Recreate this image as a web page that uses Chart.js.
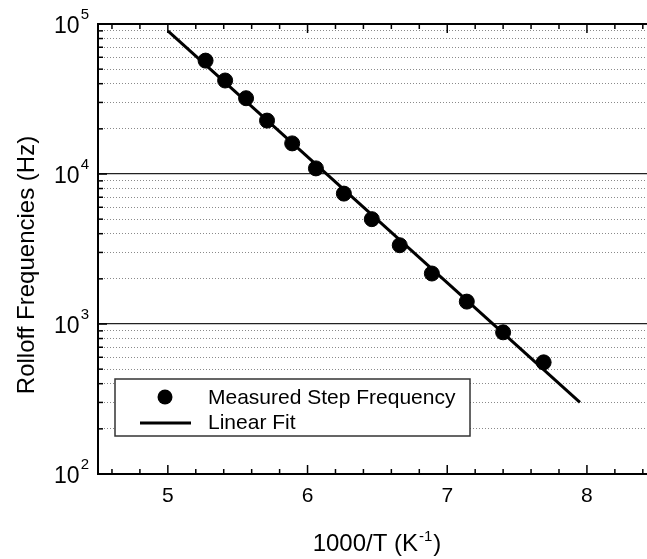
<!DOCTYPE html>
<html>
<head>
<meta charset="utf-8">
<script src="https://cdn.jsdelivr.net/npm/chart.js@4/dist/chart.umd.min.js"></script>
<style>
  html, body { margin: 0; padding: 0; background: #fff; }
</style>
</head>
<body>
<canvas id="rolloffChart" width="647" height="559"></canvas>
<script>
// measured rolloff (step) frequencies vs inverse temperature
const invT = [5.27, 5.41, 5.56, 5.71, 5.89, 6.06, 6.26, 6.46, 6.66, 6.89, 7.14, 7.40, 7.69];
const rolloffHz = [57000, 42000, 32000, 22700, 16000, 10900, 7400, 5000, 3350, 2170, 1410, 880, 555];

// linear (Arrhenius) fit, end points
const fitX = [5.0, 7.95];
const fitHz = [90000, 300];

const xTicks = [5, 6, 7, 8];
const decades = [100, 1000, 10000, 100000];
const decadeExp = ["2", "3", "4", "5"];

const yTitle = "Rolloff Frequencies (Hz)";
const xTitle = ["1000/T (K", "-1", ")"];

const FONT = "'Liberation Sans', Arial, sans-serif";
Chart.defaults.font.family = FONT;
Chart.defaults.color = "#000";

const frameTicks = {
    id: "frameTicks",
    afterDatasetsDraw(chart) {
        const { ctx, chartArea: a, scales: { x, y } } = chart;
        ctx.save();
        ctx.strokeStyle = "#000";
        ctx.lineWidth = 2;
        ctx.beginPath();
        ctx.moveTo(a.right + 2, a.top);
        ctx.lineTo(a.left, a.top);
        ctx.lineTo(a.left, a.bottom);
        ctx.lineTo(a.right + 2, a.bottom);
        ctx.stroke();

        // x ticks every 0.2, on bottom and top
        ctx.lineWidth = 1.5;
        for (let k = 23; k <= 42; k++) {
            const px = x.getPixelForValue(k / 5);
            const len = k % 5 === 0 ? 9 : 5;
            ctx.beginPath();
            ctx.moveTo(px, a.bottom);
            ctx.lineTo(px, a.bottom - len);
            ctx.moveTo(px, a.top);
            ctx.lineTo(px, a.top + len);
            ctx.stroke();
        }

        // y ticks on the left + 10^n labels
        ctx.fillStyle = "#000";
        ctx.textAlign = "right";
        ctx.textBaseline = "alphabetic";
        y.ticks.forEach(t => {
            const py = y.getPixelForValue(t.value);
            const i = decades.indexOf(t.value);
            const len = i >= 0 ? 9 : 5;
            ctx.beginPath();
            ctx.moveTo(a.left, py);
            ctx.lineTo(a.left + len, py);
            ctx.stroke();
            if (i >= 0) {
                ctx.font = "15px " + FONT;
                const ew = ctx.measureText(decadeExp[i]).width;
                ctx.fillText(decadeExp[i], a.left - 9, py - 5);
                ctx.font = "23px " + FONT;
                ctx.fillText("10", a.left - 10 - ew, py + 9);
            }
        });

        // axis titles
        ctx.textAlign = "center";
        ctx.textBaseline = "middle";
        ctx.font = "24px " + FONT;
        ctx.save();
        ctx.translate(27, 265);
        ctx.rotate(-Math.PI / 2);
        ctx.fillText(yTitle, 0, 0);
        ctx.restore();

        ctx.textAlign = "left";
        ctx.textBaseline = "alphabetic";
        ctx.font = "24px " + FONT;
        const w0 = ctx.measureText(xTitle[0]).width;
        const w2 = ctx.measureText(xTitle[2]).width;
        ctx.font = "15px " + FONT;
        const w1 = ctx.measureText(xTitle[1]).width;
        let tx = 377 - (w0 + w1 + w2 + 2) / 2;
        const base = 551;
        ctx.font = "24px " + FONT;
        ctx.fillText(xTitle[0], tx, base);
        ctx.font = "15px " + FONT;
        ctx.fillText(xTitle[1], tx + w0 + 1, base - 10);
        ctx.font = "24px " + FONT;
        ctx.fillText(xTitle[2], tx + w0 + w1 + 2, base);
        ctx.restore();
    }
};

const boxLegend = {
    id: "boxLegend",
    afterDraw(chart) {
        const { ctx } = chart;
        const ds = chart.data.datasets;
        const left = 115, top = 379, right = 470, bottom = 436;
        ctx.save();
        ctx.fillStyle = "#fff";
        ctx.fillRect(left, top, right - left, bottom - top);
        ctx.strokeStyle = "#333";
        ctx.lineWidth = 1.5;
        ctx.strokeRect(left, top, right - left, bottom - top);

        ctx.fillStyle = ds[0].backgroundColor;
        ctx.beginPath();
        ctx.arc(165, 397, ds[0].pointRadius, 0, Math.PI * 2);
        ctx.fill();

        ctx.strokeStyle = ds[1].borderColor;
        ctx.lineWidth = ds[1].borderWidth;
        ctx.beginPath();
        ctx.moveTo(140, 423);
        ctx.lineTo(191, 423);
        ctx.stroke();

        ctx.fillStyle = "#000";
        ctx.font = "21px " + FONT;
        ctx.textBaseline = "middle";
        ctx.fillText(ds[0].label, 208, 398);
        ctx.fillText(ds[1].label, 208, 423);
        ctx.restore();
    }
};

new Chart(document.getElementById("rolloffChart"), {
    type: "scatter",
    data: {
        datasets: [{
            label: "Measured Step Frequency",
            data: invT.map((v, i) => ({ x: v, y: rolloffHz[i] })),
            backgroundColor: "#000",
            borderColor: "#000",
            pointRadius: 7.5,
            pointHoverRadius: 7.5
        }, {
            label: "Linear Fit",
            data: fitX.map((v, i) => ({ x: v, y: fitHz[i] })),
            showLine: true,
            borderColor: "#000",
            backgroundColor: "#000",
            borderWidth: 3,
            pointRadius: 0
        }]
    },
    options: {
        responsive: false,
        animation: false,
        devicePixelRatio: 1,
        layout: { autoPadding: false, padding: { left: 0, right: 0, top: 24, bottom: 0 } },
        plugins: {
            legend: { display: false },
            tooltip: { enabled: false }
        },
        scales: {
            x: {
                type: "linear",
                min: 4.5,
                max: 8.43,
                afterBuildTicks: s => { s.ticks = xTicks.map(v => ({ value: v })); },
                afterFit: s => { s.height = 85; s.paddingLeft = 0; s.paddingRight = 0; },
                grid: { display: false, drawTicks: false },
                border: { display: false },
                ticks: {
                    autoSkip: false,
                    padding: 10,
                    font: { size: 21 },
                    callback: v => String(v)
                },
                title: { display: false }
            },
            y: {
                type: "logarithmic",
                min: 100,
                max: 100000,
                afterBuildTicks: s => {
                    const t = [];
                    decades.forEach((d, i) => {
                        const n = i === decades.length - 1 ? 1 : 9;
                        for (let m = 1; m <= n; m++) t.push({ value: d * m });
                    });
                    s.ticks = t;
                },
                afterFit: s => { s.width = 98; s.paddingTop = 0; s.paddingBottom = 0; },
                grid: {
                    drawTicks: false,
                    color: c => decades.includes(c.tick && c.tick.value) ? "#222" : "#8a8a8a",
                    lineWidth: c => decades.includes(c.tick && c.tick.value) ? 1.2 : 1
                },
                border: {
                    display: false,
                    dash: c => decades.includes(c.tick && c.tick.value) ? [] : [1, 2]
                },
                ticks: {
                    autoSkip: false,
                    padding: 8,
                    callback: () => ""
                },
                title: { display: false }
            }
        }
    },
    plugins: [frameTicks, boxLegend]
});
</script>
</body>
</html>
